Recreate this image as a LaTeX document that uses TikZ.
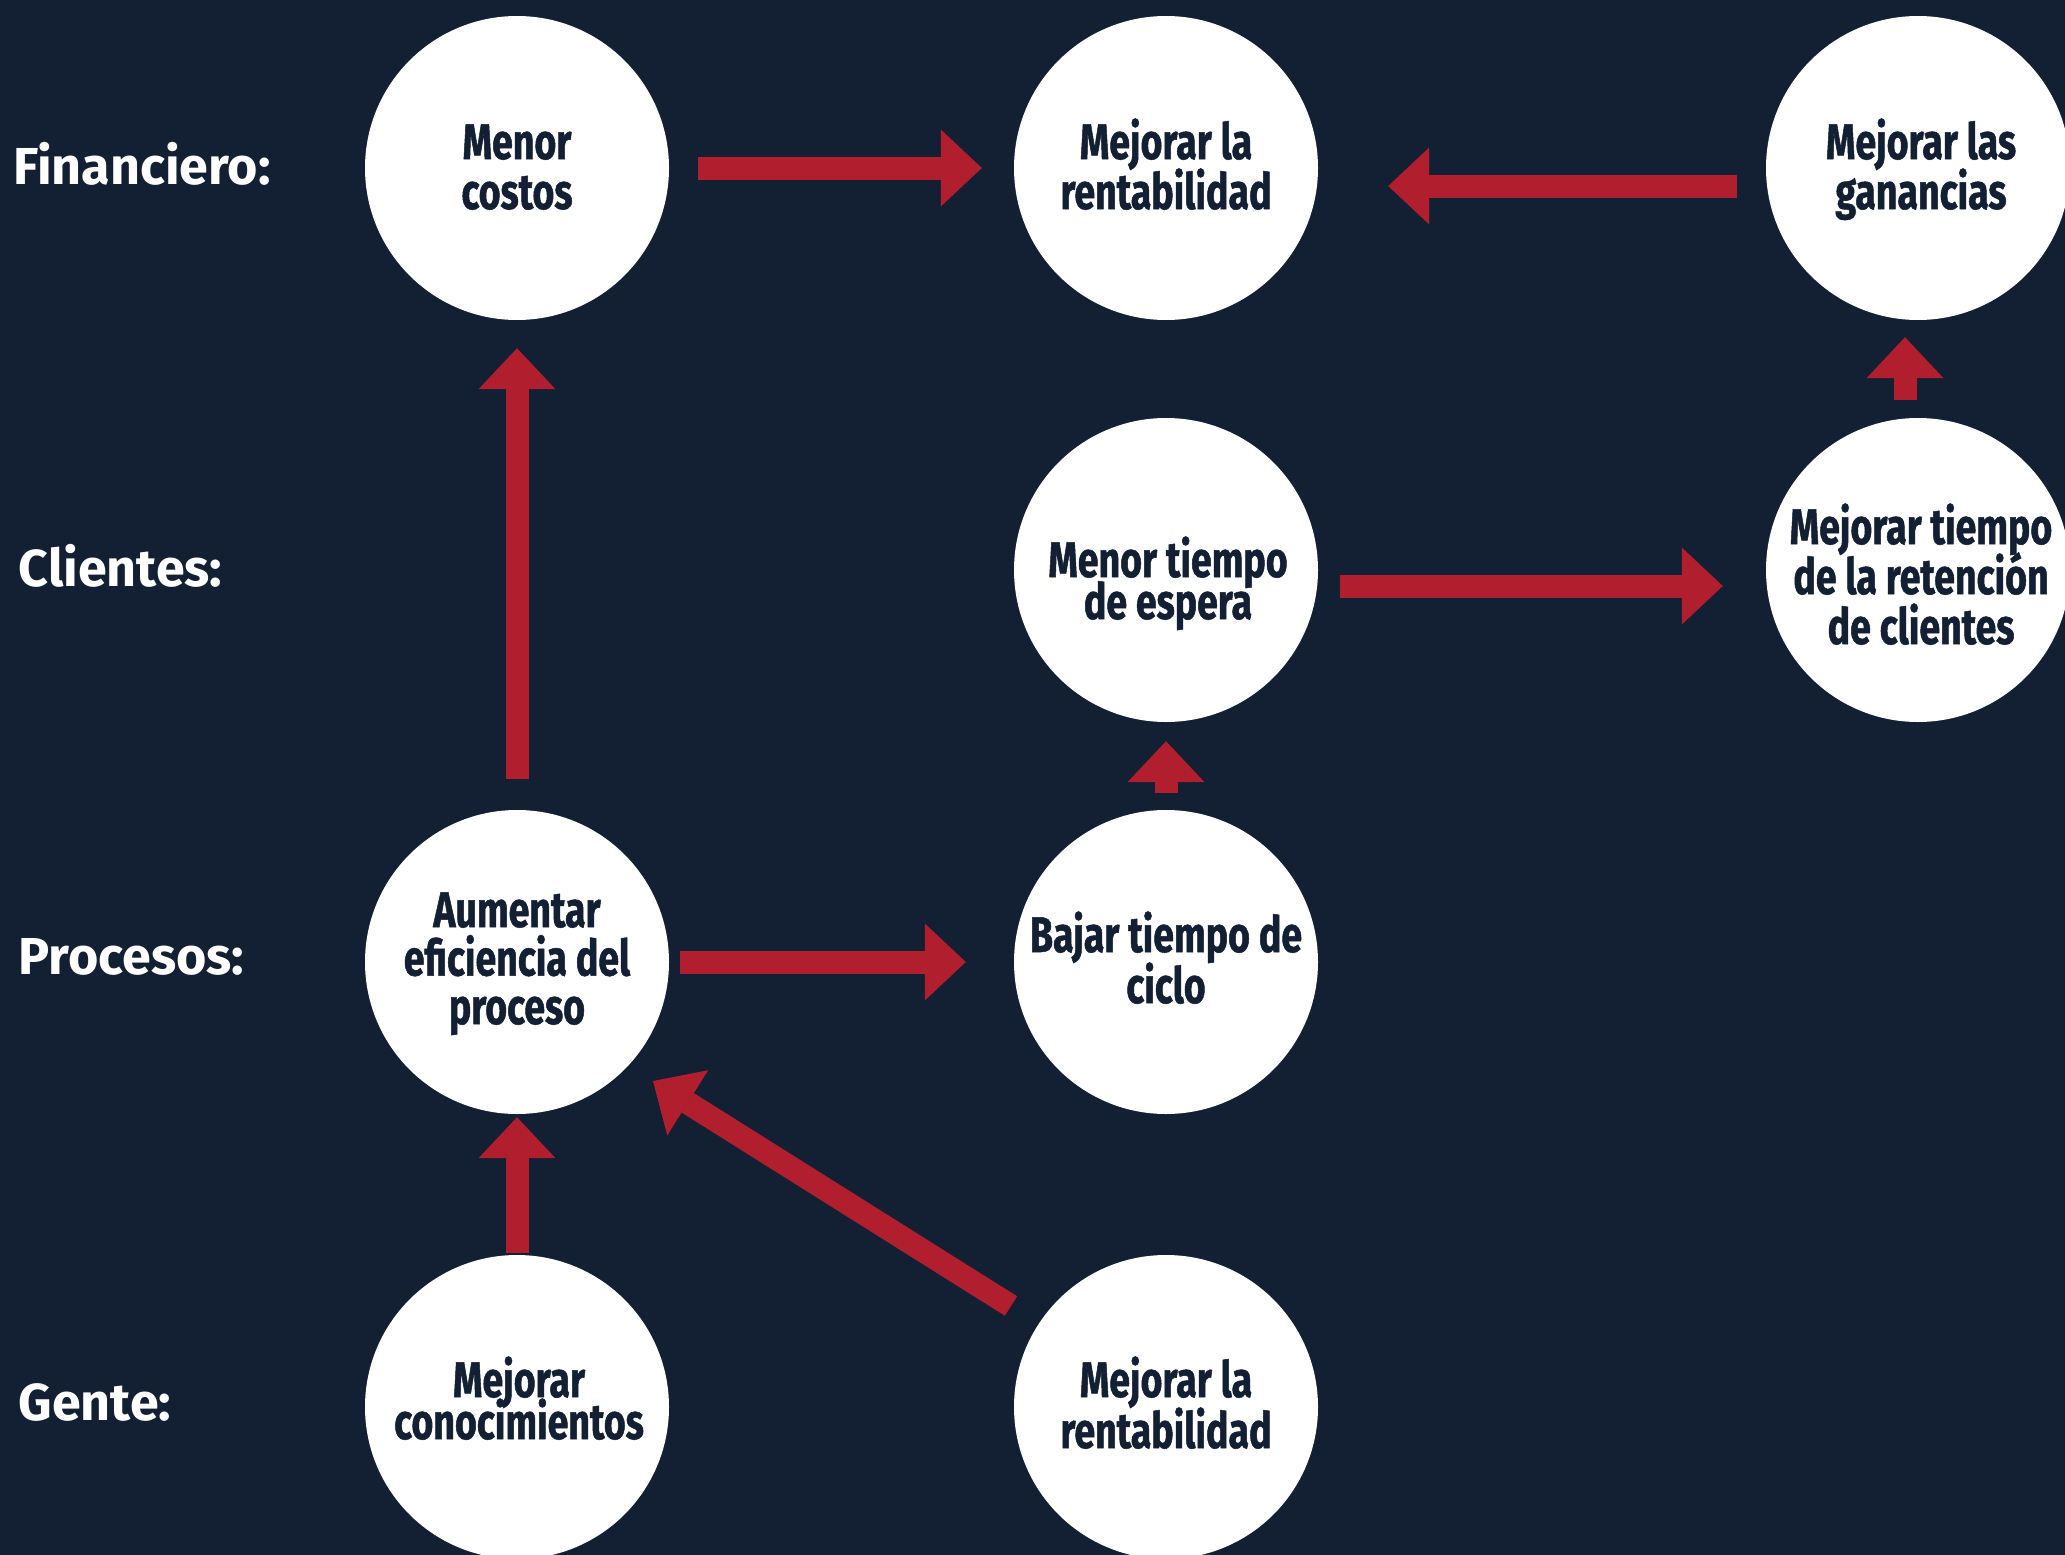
\documentclass[tikz,border=0pt]{standalone}
\usepackage{fontspec}
\setmainfont{Fira Sans}
\newfontfamily\cfont{Fira Sans}[FakeStretch=0.75,FakeBold=1]
\usetikzlibrary{arrows.meta}
\definecolor{bg}{HTML}{131F33}
\definecolor{ared}{HTML}{B11F2F}
\begin{document}
\begin{tikzpicture}[x=1pt,y=-1pt,
  circ/.style={circle,fill=white,minimum size=304pt,inner sep=0pt},
  ctext/.style={font={\cfont\bfseries\fontsize{50}{#1}\selectfont\lineskiplimit=-100pt}, text=bg, align=center, anchor=base, inner sep=0pt},
  ctext/.default=50,
  lab/.style={font=\bfseries\fontsize{52}{52}\selectfont, text=white, anchor=base west, inner sep=0pt},
  barrow/.style={draw=ared, fill=ared, line width=23pt, -{Triangle[length=41pt,width=77pt,line width=0pt]}}]
\fill[bg] (0,0) rectangle (2065,1555);
\useasboundingbox (0,0) rectangle (2065,1555);

\node[circ] (c11) at (517,168) {};
\node[circ] (c12) at (1166,168) {};
\node[circ] (c13) at (1918,168) {};
\node[circ] (c22) at (1166,570) {};
\node[circ] (c23) at (1918,570) {};
\node[circ] (c31) at (517,962) {};
\node[circ] (c32) at (1166,962) {};
\node[circ] (c41) at (517,1407) {};
\node[circ] (c42) at (1166,1407) {};

% anchor base = baseline of the last line
\node[ctext] (t11) at (517,209) {Menor\\costos};
\node[ctext] (t12) at (1166,209) {Mejorar la\\rentabilidad};
\node[ctext] (t13) at (1921,209) {Mejorar las\\ganancias};
\node[ctext=42] (t22) at (1168,619) {Menor tiempo\\de espera};
\node[ctext] (t23) at (1921,644) {Mejorar tiempo\\de la retención\\de clientes};
\node[ctext=48.5] (t31) at (517,1024) {Aumentar\\eficiencia del\\proceso};
\node[ctext=51] (t32) at (1166,1003) {Bajar tiempo de\\ciclo};
\node[ctext=42] (t41) at (519,1439) {Mejorar\\conocimientos};
\node[ctext=51] (t42) at (1166,1448) {Mejorar la\\rentabilidad};

\node[lab] (lf) at (13,184) {Financiero:};
\node[lab] (lc) at (18.5,586) {Clientes:};
\node[lab] (lp) at (18.5,974) {Procesos:};
\node[lab] (lg) at (18.5,1420) {Gente:};

\draw[barrow] ([xshift=29pt]c11.east) -- ([xshift=-32pt]c12.west);
\draw[barrow] ([shift={(-29pt,-18pt)}]c13.west) -- ([shift={(70pt,-18pt)}]c12.east);
\draw[barrow] ([shift={(-13pt,18pt)}]c23.north) -- ([shift={(-13pt,-17pt)}]c13.south);
\draw[barrow] ([shift={(22pt,-16pt)}]c22.east) -- ([shift={(-43pt,-16pt)}]c23.west);
\draw[barrow] ([yshift=17pt]c32.north) -- ([yshift=-19pt]c22.south);
\draw[barrow] ([yshift=31pt]c31.north) -- ([yshift=-28pt]c11.south);
\draw[barrow] ([xshift=11pt]c31.east) -- ([xshift=-48pt]c32.west);
\draw[barrow] ([yshift=2pt]c41.north) -- ([yshift=-3pt]c31.south);
\draw[barrow] ([shift={(-155pt,101pt)}]c42.center) -- ([shift={(136pt,-119pt)}]c31.center);
\end{tikzpicture}
\end{document}
